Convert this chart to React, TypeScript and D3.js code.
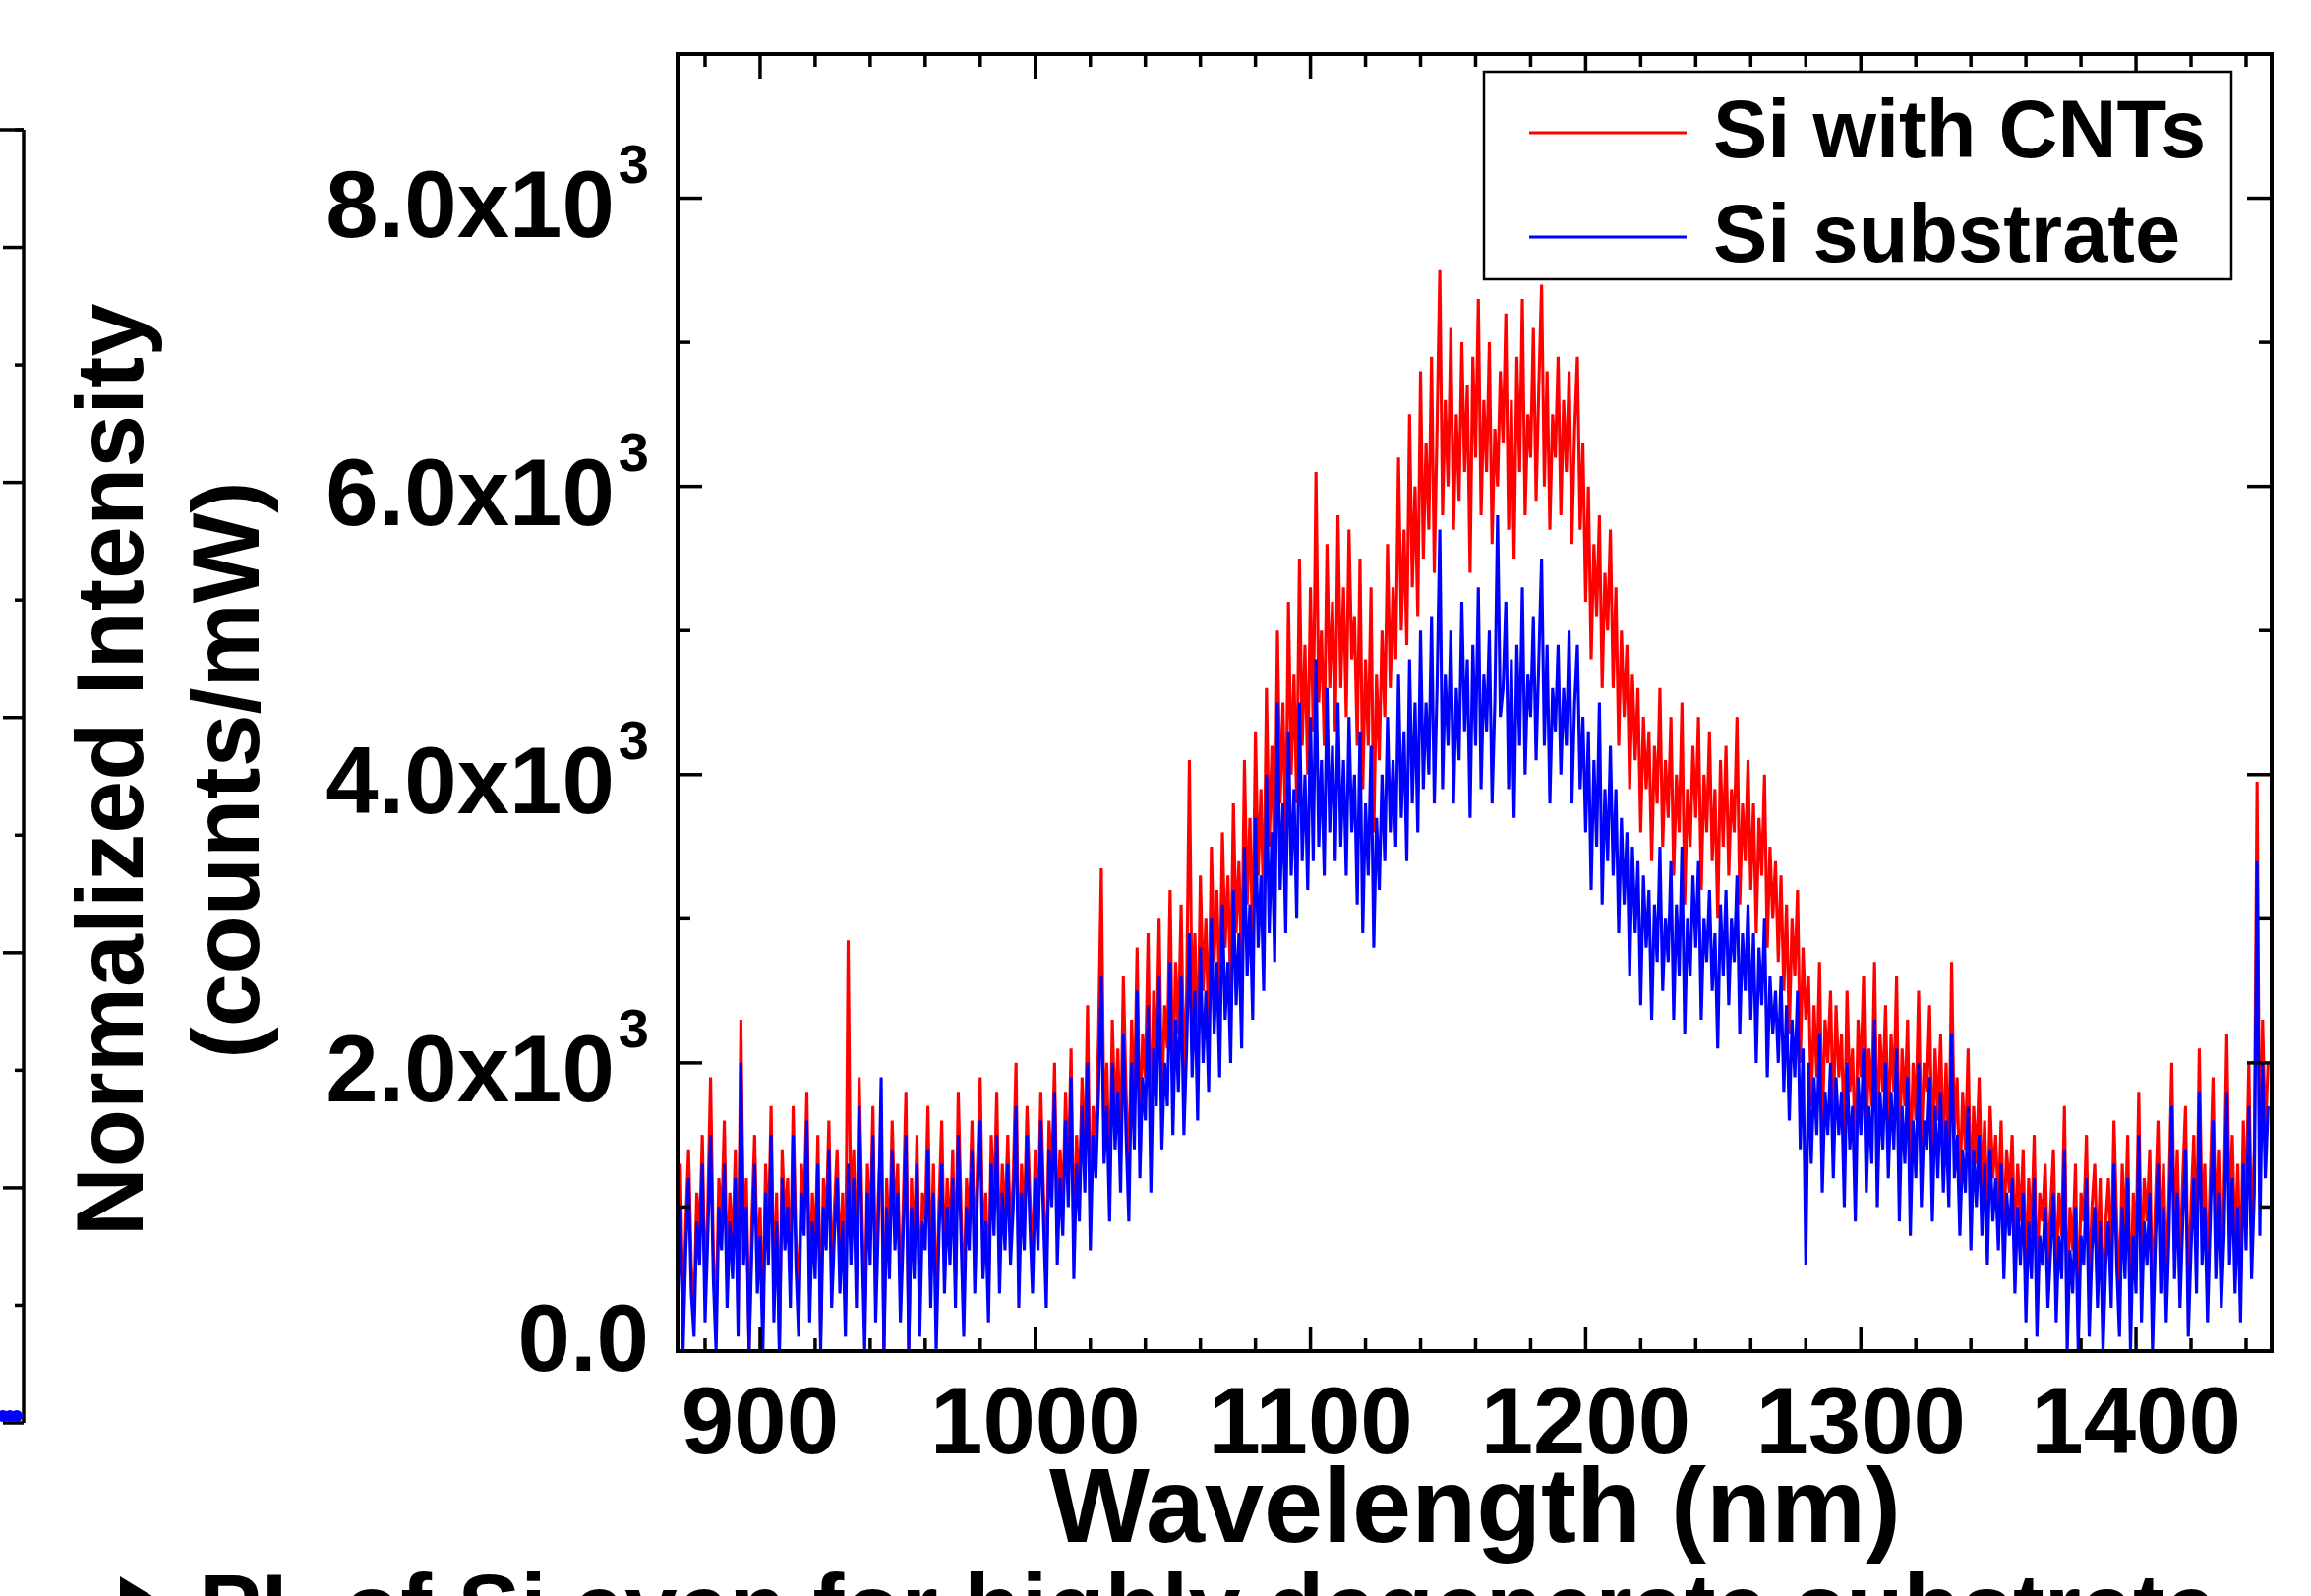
import React from 'react';
import * as d3 from 'd3';

const W = 2350;
const H = 1623;
const FONT = '"Liberation Sans", Arial, Helvetica, sans-serif';

// Wavelength grid (nm): first sample and spacing
const wavelengthStart = 870;
const wavelengthStep = 1;

// Si with CNTs (counts/mW), one value per nm from 870 nm (rows of 20 nm)
const siWithCNTs = [
  500, 1300, 200, 900, 1400, 600, 300, 1100, 800, 1500, 400, 1000, 1900, 700, 200, 1200, 900, 1600, 500, 1100,
  700, 1400, 300, 2300, 800, 1200, 0, 900, 1500, 600, 1000, 200, 1300, 800, 1700, 400, 1100, 0, 1400, 900,
  1200, 500, 1700, 800, 300, 1300, 1000, 1800, 400, 1100, 700, 1500, 100, 1200, 900, 1600, 500, 1000, 1400, 600,
  1100, 300, 2850, 800, 1400, 500, 1900, 1000, 200, 1300, 800, 1700, 400, 1100, 1500, 0, 1200, 700, 1600, 900,
  1300, 400, 1000, 1800, 0, 1200, 700, 1500, 300, 1100, 900, 1700, 500, 1300, 200, 1000, 1600, 600, 1200, 800,
  1400, 500, 1800, 1000, 300, 1200, 900, 1600, 600, 1300, 1900, 700, 1100, 400, 1500, 1000, 1800, 600, 1300, 900,
  1500, 800, 1200, 2000, 500, 1300, 900, 1700, 1100, 600, 1400, 900, 1800, 1100, 500, 1600, 1200, 2000, 800, 1400,
  1000, 1800, 1200, 2100, 700, 1500, 1100, 1900, 1300, 2400, 900, 1700, 1400, 2200, 3350, 1500, 2000, 1100, 2300, 1600,
  2100, 1400, 2600, 1800, 1200, 2300, 1700, 2800, 1500, 2200, 1900, 2900, 1400, 2500, 2000, 3000, 1700, 2400, 2100, 3200,
  1800, 2700, 2200, 3100, 1900, 2500, 4100, 2300, 2900, 2000, 3300, 2500, 3000, 2200, 3500, 2700, 3200, 2400, 3600, 2800,
  3300, 2500, 3800, 2900, 3400, 2600, 4100, 3100, 3700, 2800, 4300, 3300, 3900, 3000, 4600, 3500, 4200, 3300, 5000, 3800,
  4500, 3500, 5200, 4000, 4700, 3800, 5500, 4200, 4900, 4000, 5300, 4300, 6100, 4500, 5000, 4200, 5600, 4600, 5200, 4300,
  5800, 4600, 5300, 4400, 5700, 4800, 5100, 4200, 5500, 3900, 4800, 4200, 5300, 3600, 4700, 4100, 5000, 4400, 5600, 4600,
  5300, 4800, 6200, 5000, 5700, 4900, 6500, 5300, 6000, 5100, 6800, 5500, 6300, 5700, 6900, 5400, 6400, 7500, 5800, 6600,
  6000, 7100, 5700, 6500, 5900, 7000, 6100, 6700, 5400, 6900, 6200, 7300, 5800, 6600, 6100, 7000, 5600, 6400, 6000, 6800,
  6300, 7200, 5700, 6600, 5500, 6900, 6100, 7300, 5800, 6500, 6200, 7100, 5900, 6700, 7400, 6000, 6800, 5700, 6500, 6200,
  6900, 5800, 6600, 6100, 6800, 5600, 6400, 6900, 5700, 6300, 5200, 6000, 4800, 5600, 5100, 5800, 4600, 5400, 5000, 5700,
  4600, 5300, 4200, 5000, 4400, 4900, 3900, 4700, 4100, 4600, 3600, 4400, 3900, 4300, 3400, 4200, 3800, 4600, 3500, 4100,
  3700, 4400, 3300, 4000, 3600, 4500, 3100, 3900, 3500, 4200, 3700, 4400, 3200, 4000, 3600, 4300, 3400, 3900, 3000, 4100,
  3500, 4200, 3300, 3900, 3600, 4400, 3100, 3800, 3400, 4100, 3200, 3800, 2900, 3700, 3300, 4000, 2800, 3500, 3000, 3400,
  2700, 3300, 2500, 3100, 2200, 3000, 2600, 3200, 2000, 2800, 2300, 2600, 1700, 2400, 1900, 2700, 1500, 2300, 2000, 2500,
  1600, 2400, 1900, 2200, 1400, 2500, 1800, 2100, 1300, 2300, 1900, 2600, 1500, 2100, 1700, 2700, 1400, 2200, 1800, 2400,
  1500, 2200, 1800, 2600, 1300, 2100, 1700, 2300, 1200, 2000, 1600, 2500, 1400, 2000, 1800, 2400, 1300, 2100, 1600, 2200,
  1400, 2000, 1300, 2700, 1500, 1900, 1100, 1800, 1400, 2100, 1000, 1700, 1300, 1900, 1100, 1600, 900, 1700, 1200, 1500,
  1000, 1600, 800, 1400, 1100, 1500, 700, 1300, 900, 1400, 500, 1200, 800, 1500, 400, 1100, 900, 1300, 600, 1000,
  1400, 500, 1100, 800, 1700, 300, 1000, 700, 1300, 200, 1100, 900, 1500, 400, 1000, 1300, 600, 1200, 300, 900,
  1200, 600, 1600, 900, 400, 1300, 800, 1500, 200, 1100, 700, 1800, 500, 1200, 900, 1400, 300, 1000, 1600, 700,
  1300, 500, 1100, 2000, 800, 1400, 600, 1200, 1700, 400, 1000, 1500, 700, 2100, 900, 1300, 500, 1200, 1900, 800,
  1400, 600, 1100, 2200, 900, 1500, 700, 1300, 500, 1600, 1000, 2000, 800, 1400, 3950, 1100, 2300, 1500, 2000,
];

// Si substrate (counts/mW), same grid
const siSubstrate = [
  300, 1000, 0, 700, 1200, 400, 100, 900, 600, 1300, 200, 800, 1500, 500, 0, 1000, 700, 1300, 300, 900,
  500, 1200, 100, 2000, 600, 1000, 0, 700, 1300, 400, 800, 0, 1100, 600, 1500, 200, 900, 0, 1200, 700,
  1000, 300, 1500, 600, 100, 1100, 800, 1600, 200, 900, 500, 1300, 0, 1000, 700, 1400, 300, 800, 1200, 400,
  900, 100, 1300, 600, 1200, 300, 1700, 800, 0, 1100, 600, 1500, 200, 900, 1900, 0, 1000, 500, 1400, 700,
  1100, 200, 800, 1500, 0, 1000, 500, 1300, 100, 900, 700, 1400, 300, 1100, 0, 800, 1300, 400, 1000, 600,
  1200, 300, 1500, 800, 100, 1000, 700, 1400, 400, 1100, 1600, 500, 900, 200, 1300, 800, 1500, 400, 1100, 700,
  1300, 600, 1000, 1700, 300, 1100, 700, 1500, 900, 400, 1200, 700, 1600, 900, 300, 1400, 1000, 1800, 600, 1200,
  800, 1600, 1000, 1900, 500, 1300, 900, 1700, 1100, 2000, 700, 1500, 1200, 1800, 2600, 1300, 1700, 900, 2000, 1400,
  1800, 1100, 2200, 1500, 900, 2000, 1400, 2500, 1200, 1900, 1600, 2400, 1100, 2100, 1700, 2600, 1400, 2000, 1700, 2700,
  1500, 2300, 1800, 2600, 1500, 2100, 2900, 1900, 2500, 1600, 2800, 2000, 2500, 1800, 3000, 2200, 2700, 1900, 3100, 2300,
  2700, 2000, 3200, 2400, 2900, 2100, 3500, 2600, 3100, 2300, 3700, 2800, 3300, 2500, 4000, 2900, 3600, 2700, 4500, 3200,
  3800, 2900, 4300, 3300, 3900, 3000, 4500, 3400, 4000, 3200, 4400, 3400, 4800, 3500, 4100, 3300, 4600, 3600, 4200, 3400,
  4500, 3500, 4100, 3300, 4400, 3600, 4000, 3100, 4300, 2900, 3800, 3300, 4200, 2800, 3700, 3200, 4000, 3400, 4400, 3600,
  4100, 3500, 4700, 3700, 4300, 3400, 4800, 3800, 4500, 3600, 5000, 3900, 4500, 4000, 5100, 3800, 4600, 5700, 3900, 4700,
  4200, 5000, 3800, 4600, 4100, 5200, 4300, 4800, 3700, 4900, 4200, 5300, 3900, 4700, 4300, 5000, 3800, 4500, 5800, 4400,
  4600, 5200, 3900, 4800, 3700, 4900, 4200, 5300, 4000, 4700, 4400, 5100, 4100, 4800, 5500, 4200, 4900, 3800, 4600, 4300,
  4900, 4000, 4600, 4200, 5000, 3800, 4500, 4900, 3900, 4400, 3600, 4300, 3200, 4100, 3500, 4500, 3100, 3900, 3400, 4200,
  3300, 3900, 2900, 3700, 3100, 3600, 2600, 3500, 2900, 3400, 2400, 3300, 2800, 3200, 2300, 3100, 2700, 3500, 2500, 3000,
  2700, 3400, 2300, 3100, 2600, 3500, 2200, 3000, 2600, 3300, 2800, 3400, 2300, 3000, 2700, 3200, 2500, 2900, 2100, 3100,
  2600, 3200, 2400, 3000, 2700, 3300, 2200, 2900, 2500, 3100, 2300, 2900, 2000, 2800, 2400, 3000, 1900, 2600, 2200, 2500,
  2000, 2600, 1800, 2400, 1600, 2300, 1900, 2500, 1400, 2100, 600, 2000, 1300, 1900, 1500, 2200, 1100, 1800, 1500, 2000,
  1200, 1900, 1500, 1800, 1000, 2000, 1400, 1700, 900, 1900, 1500, 2100, 1100, 1700, 1300, 2300, 1000, 1800, 1400, 2000,
  1200, 1800, 1400, 2100, 900, 1700, 1300, 1900, 800, 1600, 1200, 2000, 1000, 1600, 1400, 1900, 900, 1700, 1200, 1800,
  1100, 1600, 1000, 2200, 1200, 1500, 800, 1400, 1100, 1700, 700, 1400, 1000, 1500, 800, 1300, 600, 1400, 900, 1200,
  700, 1300, 500, 1100, 800, 1200, 400, 1000, 600, 1100, 200, 900, 500, 1200, 100, 800, 600, 1000, 300, 700,
  1100, 200, 800, 500, 1400, 0, 700, 400, 1000, 0, 800, 600, 1200, 100, 700, 1000, 300, 900, 0, 600,
  900, 300, 1300, 600, 100, 1000, 500, 1200, 0, 800, 400, 1500, 200, 900, 600, 1100, 0, 700, 1300, 400,
  1000, 200, 800, 1700, 500, 1100, 300, 900, 1400, 100, 700, 1200, 400, 1800, 600, 1000, 200, 900, 1600, 500,
  1100, 300, 800, 1800, 600, 1200, 400, 1000, 200, 1300, 700, 1700, 500, 1100, 3400, 800, 2000, 1200, 1700,
];

const xDomain = [870, 1449.3];
const yDomain = [0, 9000];
const xMajorTicks = [900, 1000, 1100, 1200, 1300, 1400];
const xMinorTicks = [880, 920, 940, 960, 980, 1020, 1040, 1060, 1080, 1120, 1140, 1160, 1180,
  1220, 1240, 1260, 1280, 1320, 1340, 1360, 1380, 1420, 1440];
const yMajorTicks = [0, 2000, 4000, 6000, 8000];
const yMinorTicks = [1000, 3000, 5000, 7000];
const yTickMantissa = ['0.0', '2.0x10', '4.0x10', '6.0x10', '8.0x10'];
const yTickExponent = ['', '3', '3', '3', '3'];
const xTickLabels = ['900', '1000', '1100', '1200', '1300', '1400'];

const seriesNames = ['Si with CNTs', 'Si substrate'];
const seriesColors = ['#ff0000', '#0000ff'];

// Fragment of neighbouring chart on the left edge
const fragmentTicks = [0, 1, 2, 3, 4, 5, 6, 7, 8, 9, 10, 11];
const fragmentDots = [3, 10, 17];

const M = { left: 689, right: 2310, top: 55, bottom: 1374 };

export default function App() {
  const x = d3.scaleLinear().domain(xDomain).range([M.left, M.right]);
  const y = d3.scaleLinear().domain(yDomain).range([M.bottom, M.top]);
  const line = d3
    .line<number>()
    .x((_, i) => x(wavelengthStart + wavelengthStep * i))
    .y((d) => y(d));

  const fy = d3.scaleLinear().domain([0, 11]).range([1447, 132]);

  const majorLen = 25;
  const minorLen = 13;
  const axisW = 4;

  return (
    <svg
      width={W}
      height={H}
      viewBox={`0 0 ${W} ${H}`}
      style={{ position: 'absolute', left: 0, top: 0, background: '#fff' }}
      fontFamily={FONT}
    >
      <rect x={0} y={0} width={W} height={H} fill="#fff" />

      {/* left fragment axis */}
      <g stroke="#000" strokeWidth={3.5}>
        <line x1={24} x2={24} y1={fy(11)} y2={fy(0)} />
        <line x1={0} x2={24} y1={fy(11)} y2={fy(11)} />
        {fragmentTicks.map((t) => (
          <line key={t} x1={t % 2 === 0 ? 3 : 15} x2={24} y1={fy(t)} y2={fy(t)} />
        ))}
      </g>
      {fragmentDots.map((d, i) => (
        <circle key={i} cx={d} cy={1440} r={6} fill="#0000ff" />
      ))}

      {/* data */}
      <defs>
        <clipPath id="plotClip">
          <rect x={M.left} y={M.top} width={M.right - M.left} height={M.bottom - M.top} />
        </clipPath>
      </defs>
      <g clipPath="url(#plotClip)" fill="none" strokeWidth={3.1} strokeLinejoin="bevel">
        <path d={line(siWithCNTs) || ''} stroke={seriesColors[0]} />
        <path d={line(siSubstrate) || ''} stroke={seriesColors[1]} />
      </g>

      {/* ticks */}
      <g stroke="#000" strokeWidth={3.5}>
        {xMajorTicks.map((t) => (
          <g key={'xM' + t}>
            <line x1={x(t)} x2={x(t)} y1={M.bottom} y2={M.bottom - majorLen} />
            <line x1={x(t)} x2={x(t)} y1={M.top} y2={M.top + majorLen} />
          </g>
        ))}
        {xMinorTicks.map((t) => (
          <g key={'xm' + t}>
            <line x1={x(t)} x2={x(t)} y1={M.bottom} y2={M.bottom - minorLen} />
            <line x1={x(t)} x2={x(t)} y1={M.top} y2={M.top + minorLen} />
          </g>
        ))}
        {yMajorTicks.map((t) => (
          <g key={'yM' + t}>
            <line x1={M.left} x2={M.left + majorLen} y1={y(t)} y2={y(t)} />
            <line x1={M.right} x2={M.right - majorLen} y1={y(t)} y2={y(t)} />
          </g>
        ))}
        {yMinorTicks.map((t) => (
          <g key={'ym' + t}>
            <line x1={M.left} x2={M.left + minorLen} y1={y(t)} y2={y(t)} />
            <line x1={M.right} x2={M.right - minorLen} y1={y(t)} y2={y(t)} />
          </g>
        ))}
      </g>

      {/* frame */}
      <rect
        x={M.left}
        y={M.top}
        width={M.right - M.left}
        height={M.bottom - M.top}
        fill="none"
        stroke="#000"
        strokeWidth={axisW}
      />

      {/* y tick labels */}
      <g fontWeight="bold" fill="#000">
        {yMajorTicks.map((t, i) => (
          <text
            key={'yl' + t}
            x={660}
            y={y(t) + (t === 0 ? 20 : 39)}
            textAnchor="end"
            fontSize={96}
          >
            {yTickMantissa[i]}
            {yTickExponent[i] ? (
              <tspan fontSize={56} dx={4} dy={-55}>
                {yTickExponent[i]}
              </tspan>
            ) : null}
          </text>
        ))}
      </g>

      {/* x tick labels */}
      <g fontWeight="bold" fill="#000" fontSize={96} textAnchor="middle">
        {xMajorTicks.map((t, i) => (
          <text key={'xl' + t} x={x(t)} y={1478}>
            {xTickLabels[i]}
          </text>
        ))}
      </g>

      {/* axis titles */}
      <text x={1500} y={1568} textAnchor="middle" fontWeight="bold" fontSize={108}>
        Wavelength (nm)
      </text>
      <text
        transform="translate(145,783) rotate(-90)"
        textAnchor="middle"
        fontWeight="bold"
        fontSize={97}
      >
        Normalized Intensity
      </text>
      <text
        transform="translate(263,783) rotate(-90)"
        textAnchor="middle"
        fontWeight="bold"
        fontSize={97}
      >
        (counts/mW)
      </text>

      {/* legend */}
      <rect x={1509} y={73} width={760} height={211} fill="#fff" stroke="#000" strokeWidth={2.5} />
      {seriesNames.map((name, i) => (
        <g key={name}>
          <line
            x1={1555}
            x2={1715}
            y1={135 + i * 106}
            y2={135 + i * 106}
            stroke={seriesColors[i]}
            strokeWidth={3}
          />
          <text x={1742} y={160 + i * 106} fontWeight="bold" fontSize={83}>
            {name}
          </text>
        </g>
      ))}

      {/* caption (cut off at bottom) */}
      <polygon points="122,1603 176,1636 122,1669" fill="#000" />
      <text x={202} y={1668} fontWeight="bold" fontSize={95.5}>
        PL of Si even for highly degenerate substrate
      </text>
    </svg>
  );
}
